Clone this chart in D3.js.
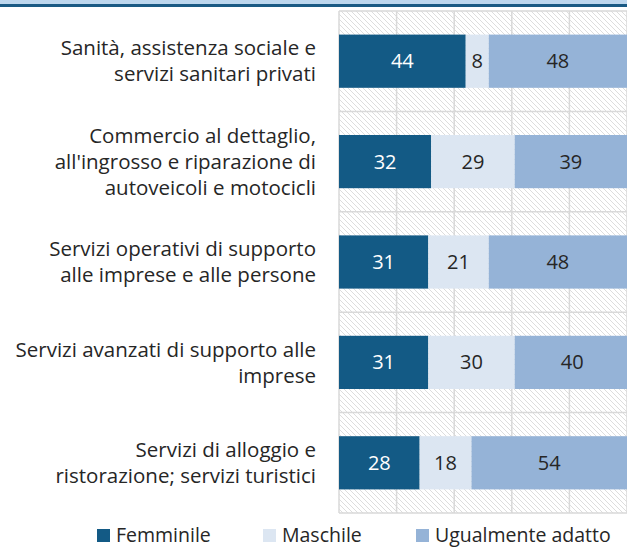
<!DOCTYPE html>
<html>
<head>
<meta charset="utf-8">
<script src="https://cdn.jsdelivr.net/npm/d3@7"></script>
<style>
  body { margin: 0; background: #fff; }
  svg { display: block; font-family: "Open Sans", sans-serif; }
</style>
</head>
<body>
<div id="chart"></div>
<script>
// Categories (label lines) and series values.
const categories = [
    ["Sanità, assistenza sociale e", "servizi sanitari privati"],
    ["Commercio al dettaglio,", "all'ingrosso e riparazione di", "autoveicoli e motocicli"],
    ["Servizi operativi di supporto", "alle imprese e alle persone"],
    ["Servizi avanzati di supporto alle", "imprese"],
    ["Servizi di alloggio e", "ristorazione; servizi turistici"]
];
const seriesNames = ["Femminile", "Maschile", "Ugualmente adatto"];
const femminile = [44, 32, 31, 31, 28];
const maschile = [8, 29, 21, 30, 18];
const ugualmente = [48, 39, 48, 40, 54];
const xTicks = [0, 20, 40, 60, 80, 100];

const colors = ["#135a85", "#dce6f2", "#95b3d7"];
const textColors = ["#ffffff", "#262626", "#262626"];

const width = 627, height = 547;
const plotLeft = 339, plotRight = 627, plotTop = 11, plotBottom = 513;
const fontSize = 20.5;

const svg = d3.select("#chart").append("svg")
    .attr("width", width)
    .attr("height", height)
    .attr("viewBox", [0, 0, width, height]);

// Hatched background pattern.
const defs = svg.append("defs");
const pattern = defs.append("pattern")
    .attr("id", "hatch")
    .attr("patternUnits", "userSpaceOnUse")
    .attr("width", 5)
    .attr("height", 5);
pattern.append("rect").attr("width", 5).attr("height", 5).attr("fill", "#fff");
pattern.append("path")
    .attr("d", "M-1,-1 L6,6 M-1,4 L1,6 M4,-1 L6,1")
    .attr("stroke", "#d4d4d4")
    .attr("stroke-width", 0.8);

// Header band at the top.
svg.append("rect").attr("x", 0).attr("y", 0).attr("width", width).attr("height", 4).attr("fill", "#bdd7ee");
svg.append("rect").attr("x", 0).attr("y", 4).attr("width", width).attr("height", 3).attr("fill", "#1a5a84");

const x = d3.scaleLinear().domain([0, 100]).range([plotLeft, plotRight]);
const y = d3.scaleBand()
    .domain(d3.range(categories.length))
    .range([plotTop, plotBottom])
    .paddingInner(0.47)
    .paddingOuter(0.235);

svg.append("rect")
    .attr("x", plotLeft).attr("y", plotTop)
    .attr("width", plotRight - plotLeft).attr("height", plotBottom - plotTop)
    .attr("fill", "url(#hatch)");

// Gridlines: vertical at ticks, horizontal at band edges.
svg.append("g").selectAll("line")
    .data(xTicks)
    .join("line")
    .attr("x1", d => x(d)).attr("x2", d => x(d))
    .attr("y1", plotTop).attr("y2", plotBottom)
    .attr("stroke", "#d9d9d9").attr("stroke-width", 1.5);

const step = y.step();
svg.append("g").selectAll("line")
    .data(d3.range(categories.length + 1))
    .join("line")
    .attr("x1", plotLeft).attr("x2", plotRight)
    .attr("y1", i => plotTop + i * step).attr("y2", i => plotTop + i * step)
    .attr("stroke", "#d9d9d9").attr("stroke-width", 1.5);

// Stack the series.
const rows = categories.map((c, i) => ({ i, Femminile: femminile[i], Maschile: maschile[i], "Ugualmente adatto": ugualmente[i] }));
const stacked = d3.stack().keys(seriesNames)(rows);

const layers = svg.append("g").selectAll("g")
    .data(stacked)
    .join("g");

layers.selectAll("rect")
    .data(d => d)
    .join("rect")
    .attr("x", d => x(d[0]))
    .attr("y", d => y(d.data.i))
    .attr("width", d => x(d[1]) - x(d[0]))
    .attr("height", y.bandwidth())
    .attr("fill", function() { return colors[d3.select(this.parentNode).datum().index]; });

layers.selectAll("text")
    .data(d => d)
    .join("text")
    .attr("x", d => (x(d[0]) + x(d[1])) / 2)
    .attr("y", d => y(d.data.i) + y.bandwidth() / 2)
    .attr("dy", "0.35em")
    .attr("text-anchor", "middle")
    .attr("font-size", 20)
    .attr("fill", function() { return textColors[d3.select(this.parentNode).datum().index]; })
    .text(d => d[1] - d[0]);

// Category labels.
const lineH = 26;
svg.append("g").selectAll("text")
    .data(categories)
    .join("text")
    .attr("text-anchor", "end")
    .attr("font-size", fontSize)
    .attr("fill", "#262626")
    .each(function(lines, i) {
        const cy = y(i) + y.bandwidth() / 2;
        const t = d3.select(this);
        lines.forEach((line, k) => {
            t.append("tspan")
                .attr("x", 316)
                .attr("y", cy + (k - (lines.length - 1) / 2) * lineH)
                .attr("dy", "0.35em")
                .text(line);
        });
    });

// Legend.
const legendX = [97, 263, 416];
const legend = svg.append("g").selectAll("g")
    .data(seriesNames)
    .join("g")
    .attr("transform", (d, i) => `translate(${legendX[i]},535)`);
legend.append("rect")
    .attr("x", 0).attr("y", -6)
    .attr("width", 13).attr("height", 13)
    .attr("fill", (d, i) => colors[i]);
legend.append("text")
    .attr("x", 19)
    .attr("dy", "0.35em")
    .attr("font-size", 19.5)
    .attr("fill", "#262626")
    .text(d => d);
</script>
</body>
</html>
